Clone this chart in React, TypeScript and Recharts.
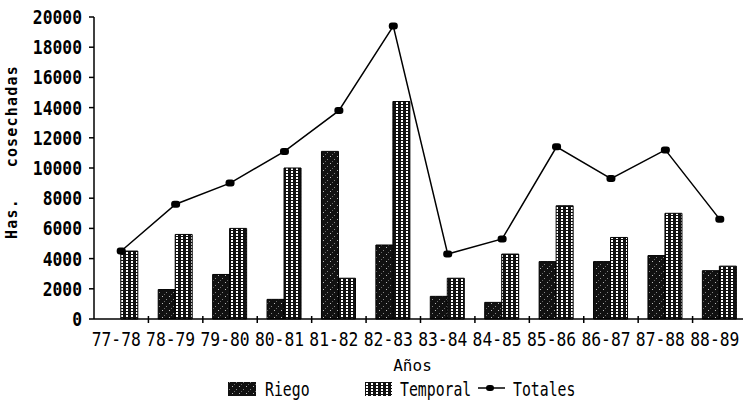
import React from 'react';
import { ComposedChart, Bar, Line, XAxis, YAxis, Legend } from 'recharts';

const years = ['77-78', '78-79', '79-80', '80-81', '81-82', '82-83', '83-84', '84-85', '85-86', '86-87', '87-88', '88-89'];
const riego = [0, 1950, 2950, 1300, 11100, 4900, 1500, 1100, 3800, 3800, 4200, 3200];
const temporal = [4500, 5600, 6000, 10000, 2700, 14400, 2700, 4300, 7500, 5400, 7000, 3500];
const totales = [4500, 7600, 9000, 11100, 13800, 19400, 4300, 5300, 11400, 9300, 11200, 6600];
const yTicks = [0, 2000, 4000, 6000, 8000, 10000, 12000, 14000, 16000, 18000, 20000];

const data = years.map((y, i) => ({ year: y, riego: riego[i], temporal: temporal[i], totales: totales[i] }));

const FONT = '"DejaVu Sans Mono", "Liberation Mono", monospace';
const CHART_W = 747;
const PLOT_LEFT = 94;
const BAND = (CHART_W - PLOT_LEFT) / years.length;

function Patterns({ prefix }: { prefix: string }) {
  return (
    <defs>
      <pattern id={`${prefix}-riego`} width="7" height="7" patternUnits="userSpaceOnUse">
        <rect width="7" height="7" fill="#111" />
        <rect x="1" y="2" width="1" height="1" fill="#bbb" />
        <rect x="5" y="5" width="1" height="1" fill="#888" />
        <rect x="3" y="0" width="1" height="1" fill="#666" />
      </pattern>
      <pattern id={`${prefix}-temporal`} width="5" height="3" patternUnits="userSpaceOnUse">
        <rect width="5" height="3" fill="#111" />
        <rect x="1" y="0" width="2" height="2" fill="#fff" />
      </pattern>
    </defs>
  );
}

function XTick(props: any) {
  const { x, y, payload, index } = props;
  return (
    <g>
      {index < years.length - 1 && (
        <line x1={x + BAND / 2} x2={x + BAND / 2} y1={y - 3} y2={y + 4} stroke="#000" strokeWidth={1.5} />
      )}
      <g transform={`translate(${x - 5},${y + 27})`}>
        <text transform="scale(0.86,1)" textAnchor="middle" fontFamily={FONT} fontSize={19} fill="#000">
          {payload.value}
        </text>
      </g>
    </g>
  );
}

function YTick(props: any) {
  const { x, y, payload } = props;
  return (
    <g transform={`translate(${x},${y + 7})`}>
      <text transform="scale(0.86,1)" textAnchor="end" fontFamily={FONT} fontSize={19} fontWeight="bold" fill="#000">
        {payload.value}
      </text>
    </g>
  );
}

function YTitle() {
  return (
    <text
      transform="translate(17,152) rotate(-90)"
      textAnchor="middle"
      fontFamily={FONT}
      fontSize={15}
      fontWeight="bold"
      letterSpacing={1.2}
      fill="#000"
      xmlSpace="preserve"
      style={{ whiteSpace: 'pre' }}
    >
      {'Has.   cosechadas'}
    </text>
  );
}

function Dot(props: any) {
  const { cx, cy } = props;
  if (cx == null || cy == null) return null;
  return <rect x={cx - 4.5} y={cy - 3.5} width={9} height={7} rx={3} fill="#000" />;
}

function LegendContent() {
  const label = (x: number, text: string) => (
    <g transform={`translate(${x},19)`}>
      <text transform="scale(0.78,1)" fontFamily={FONT} fontSize={19} fill="#000">{text}</text>
    </g>
  );
  return (
    <svg width={743} height={24}>
      <Patterns prefix="lg" />
      <rect x={228} y={5} width={28} height={14} fill="url(#lg-riego)" />
      {label(265, 'Riego')}
      <rect x={365} y={5} width={27} height={14} fill="url(#lg-temporal)" />
      {label(400, 'Temporal')}
      <line x1={478} x2={505} y1={11} y2={11} stroke="#000" strokeWidth={1.5} />
      <rect x={486} y={8} width={8} height={6} rx={3} fill="#000" />
      {label(513, 'Totales')}
    </svg>
  );
}

export default function App() {
  return (
    <div style={{ position: 'absolute', left: 0, top: 0, width: 743, height: 401, overflow: 'hidden', background: '#fff' }}>
      <ComposedChart
        width={CHART_W}
        height={401}
        data={data}
        margin={{ top: 17, right: 0, left: 0, bottom: 52 }}
        barGap={0}
        barCategoryGap="18%"
      >
        <Patterns prefix="ch" />
        <XAxis
          dataKey="year"
          height={30}
          tickLine={false}
          tickSize={0}
          tickMargin={0}
          tick={<XTick />}
          interval={0}
          axisLine={{ stroke: '#000', strokeWidth: 1.5 }}
          label={{ value: 'Años', position: 'bottom', offset: 11, dx: -8, fontFamily: FONT, fontSize: 16, fill: '#000' }}
        />
        <YAxis
          width={PLOT_LEFT}
          domain={[0, 20000]}
          ticks={yTicks}
          interval={0}
          tickSize={5}
          tickMargin={7}
          tick={<YTick />}
          tickLine={{ stroke: '#000', strokeWidth: 1.5 }}
          axisLine={{ stroke: '#000', strokeWidth: 1.5 }}
          label={<YTitle />}
        />
        <Legend
          layout="horizontal"
          verticalAlign="middle"
          align="center"
          content={<LegendContent />}
          wrapperStyle={{ position: 'absolute', top: 377, left: 0, width: 743, height: 24 }}
        />
        <Bar dataKey="riego" name="Riego" fill="url(#ch-riego)" stroke="#000" strokeWidth={1} isAnimationActive={false} />
        <Bar dataKey="temporal" name="Temporal" fill="url(#ch-temporal)" stroke="#000" strokeWidth={1} isAnimationActive={false} />
        <Line
          type="linear"
          dataKey="totales"
          name="Totales"
          stroke="#000"
          strokeWidth={1.5}
          dot={<Dot />}
          activeDot={false}
          isAnimationActive={false}
        />
      </ComposedChart>
    </div>
  );
}
